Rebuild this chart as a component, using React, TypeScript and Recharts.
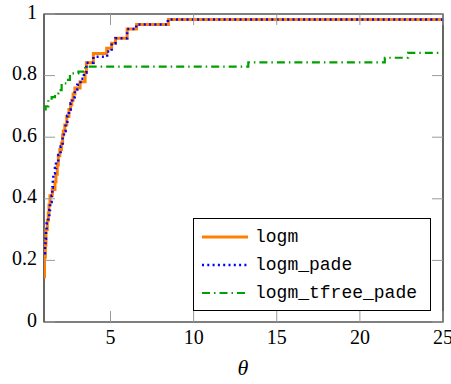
import React from 'react'
import { LineChart, Line, XAxis, YAxis, ReferenceArea } from 'recharts'

// performance profile, values
const logmX = [1, 1.03, 1.08, 1.12, 1.2, 1.26, 1.3, 1.36, 1.5, 1.66, 1.72, 1.8, 1.86, 1.95, 2.05, 2.12, 2.16, 2.25, 2.37, 2.5, 2.6, 2.67, 2.75, 2.86, 3.17, 3.47, 3.55, 3.97, 4.77, 5.07, 5.3, 6.0, 6.57, 8.48, 25]
const logmY = [0.147, 0.21, 0.25, 0.3, 0.33, 0.354, 0.38, 0.41, 0.43, 0.455, 0.48, 0.51, 0.54, 0.56, 0.58, 0.607, 0.62, 0.64, 0.667, 0.69, 0.705, 0.72, 0.74, 0.76, 0.78, 0.81, 0.842, 0.872, 0.889, 0.905, 0.921, 0.951, 0.966, 0.982, 0.982]

const padeX = [1, 1.06, 1.09, 1.12, 1.16, 1.26, 1.32, 1.36, 1.46, 1.5, 1.53, 1.56, 1.66, 1.72, 1.86, 2.0, 2.12, 2.2, 2.3, 2.4, 2.5, 2.6, 2.7, 2.85, 3.0, 3.2, 3.4, 3.55, 3.97, 4.8, 5.07, 5.3, 6.0, 6.55, 8.45, 25]
const padeY = [0.223, 0.25, 0.27, 0.3, 0.32, 0.342, 0.364, 0.39, 0.41, 0.437, 0.46, 0.483, 0.5, 0.52, 0.542, 0.57, 0.6, 0.62, 0.65, 0.67, 0.69, 0.71, 0.73, 0.755, 0.77, 0.79, 0.81, 0.842, 0.861, 0.878, 0.905, 0.921, 0.951, 0.966, 0.982, 0.982]

const tfreeX = [1, 1.1, 1.26, 1.46, 1.66, 1.86, 2.06, 2.37, 2.56, 3.07, 3.47, 13.29, 21.5, 22.9, 25]
const tfreeY = [0.69, 0.7, 0.72, 0.73, 0.742, 0.753, 0.775, 0.786, 0.807, 0.813, 0.829, 0.843, 0.858, 0.874, 0.874]

const xTicks = [5, 10, 15, 20, 25]
const yTicks = [0, 0.2, 0.4, 0.6, 0.8, 1]

const names = ['logm', 'logm_pade', 'logm_tfree_pade']

const zip = (xs: number[], ys: number[]) => xs.map((x, i) => ({ x, y: ys[i] }))

// plot box in px
const L = 44, R = 443, T = 14, B = 322
const TICK = 11
const serif = '"Liberation Serif", "Times New Roman", serif'
const mono = '"Liberation Mono", "DejaVu Sans Mono", monospace'

const XTick = (props: any) => {
  const { x, payload } = props
  return (
    <g>
      <line x1={x} x2={x} y1={B} y2={B - TICK} stroke="#9a9a9a" />
      <line x1={x} x2={x} y1={T} y2={T + TICK} stroke="#9a9a9a" />
      <text x={x} y={339} textAnchor="middle" dominantBaseline="middle" fontFamily={serif} fontSize={20} fill="#000">
        {payload.value}
      </text>
    </g>
  )
}

const YTick = (props: any) => {
  const { y, payload } = props
  return (
    <g>
      <line x1={L} x2={L + TICK} y1={y} y2={y} stroke="#9a9a9a" />
      <line x1={R} x2={R - TICK} y1={y} y2={y} stroke="#9a9a9a" />
      <text x={37} y={y} textAnchor="end" dominantBaseline="middle" fontFamily={serif} fontSize={20} fill="#000">
        {payload.value}
      </text>
    </g>
  )
}

const styles = [
  { stroke: '#ff8000', width: 3, dash: undefined },
  { stroke: '#0000ff', width: 2.5, dash: '2 3.3' },
  { stroke: '#00a000', width: 2.2, dash: '8 4 1.5 4' },
]

const LegendBox = () => (
  <div style={{ position: 'absolute', left: 193, top: 218, width: 238, height: 93, border: '1px solid #000', background: '#fff', boxSizing: 'border-box', paddingTop: 4 }}>
    {names.map((n, i) => (
      <div key={n} style={{ display: 'flex', alignItems: 'center', height: 28 }}>
        <svg width={61} height={10} style={{ flex: 'none' }}>
          <line x1={8} x2={54} y1={5} y2={5} stroke={styles[i].stroke} strokeWidth={styles[i].width} strokeDasharray={styles[i].dash} />
        </svg>
        <span style={{ fontFamily: mono, fontSize: 18, color: '#000', lineHeight: '28px' }}>{n}</span>
      </div>
    ))}
  </div>
)

export default function App() {
  return (
    <div style={{ position: 'absolute', left: 0, top: 0, width: 451, height: 384 }}>
      <LineChart width={451} height={384} margin={{ top: T, right: 451 - R, bottom: 0, left: 0 }}>
        <XAxis
          dataKey="x"
          type="number"
          domain={[1, 25]}
          ticks={xTicks}
          allowDataOverflow
          height={384 - B}
          axisLine={false}
          tickLine={false}
          tick={<XTick />}
        />
        <YAxis
          dataKey="y"
          type="number"
          domain={[0, 1]}
          ticks={yTicks}
          allowDataOverflow
          width={L}
          axisLine={false}
          tickLine={false}
          tick={<YTick />}
        />
        <ReferenceArea x1={1} x2={25} y1={0} y2={1} fill="none" stroke="#000" strokeWidth={1.2} ifOverflow="visible" />
        <Line data={zip(logmX, logmY)} dataKey="y" name={names[0]} type="stepAfter" stroke={styles[0].stroke} strokeWidth={styles[0].width} dot={false} activeDot={false} isAnimationActive={false} />
        <Line data={zip(padeX, padeY)} dataKey="y" name={names[1]} type="stepAfter" stroke={styles[1].stroke} strokeWidth={styles[1].width} strokeDasharray={styles[1].dash} dot={false} activeDot={false} isAnimationActive={false} />
        <Line data={zip(tfreeX, tfreeY)} dataKey="y" name={names[2]} type="stepAfter" stroke={styles[2].stroke} strokeWidth={styles[2].width} strokeDasharray={styles[2].dash} dot={false} activeDot={false} isAnimationActive={false} />
      </LineChart>
      <div style={{ position: 'absolute', left: 243, top: 368, transform: 'translate(-50%, -50%)', fontFamily: serif, fontSize: 22, fontStyle: 'italic', color: '#000' }}>θ</div>
      <LegendBox />
    </div>
  )
}
